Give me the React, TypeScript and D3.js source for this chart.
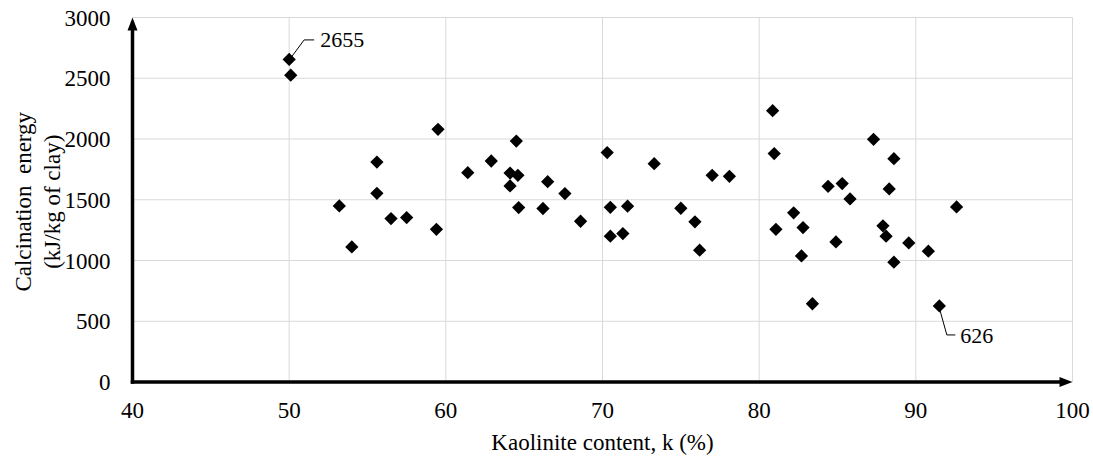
import React from 'react';
import * as d3 from 'd3';

// Kaolinite content (%) and calcination energy (kJ/kg of clay)
const kaolinite = [
  50.0, 50.1, 59.5, 55.6, 61.4, 55.6, 53.2, 56.5, 57.5, 59.4, 54.0,
  64.5, 62.9, 64.1, 64.6, 64.1, 66.5, 67.6, 64.65, 66.2, 68.6,
  70.3, 73.3, 70.5, 71.6, 70.5, 71.3, 75.0, 77.0, 78.1, 75.9, 76.2,
  80.96, 80.86, 87.3, 84.4, 85.3, 85.8, 82.2, 81.07, 82.8, 84.9, 82.7, 83.4,
  88.6, 88.3, 87.9, 88.1, 89.55, 90.8, 88.6, 92.6, 91.5,
];
const energy = [
  2655, 2525, 2080, 1810, 1723, 1553, 1449, 1345, 1353, 1257, 1112,
  1983, 1819, 1720, 1701, 1614, 1649, 1551, 1436, 1428, 1323,
  1888, 1797, 1438, 1447, 1200, 1222, 1430, 1701, 1693, 1318, 1085,
  1880, 2233, 1997, 1611, 1633, 1507, 1392, 1257, 1271, 1153, 1038, 644,
  1838, 1589, 1285, 1200, 1145, 1077, 986, 1441, 626,
];
const xTicks = [40, 50, 60, 70, 80, 90, 100];
const yTicks = [0, 500, 1000, 1500, 2000, 2500, 3000];
// labelled points: index into the arrays above
const labelled = [0, 52];

const width = 1093;
const height = 456;
const font = '"Liberation Serif", serif';

export default function App() {
  const x = d3.scaleLinear().domain([40, 100]).range([132.5, 1072.5]);
  const y = d3.scaleLinear().domain([0, 3000]).range([382, 17.5]);
  const diamond = d3.symbol(d3.symbolSquare, 88)();

  const x0 = x(40);
  const x1 = x(100);
  const y0 = y(0);
  const y1 = y(3000);

  const top = labelled[0];
  const bottom = labelled[1];
  const tx = x(kaolinite[top]);
  const ty = y(energy[top]);
  const bx = x(kaolinite[bottom]);
  const by = y(energy[bottom]);

  return (
    <div style={{ position: 'absolute', left: 0, top: 0 }}>
      <svg width={width} height={height} style={{ display: 'block' }}>
        <rect width={width} height={height} fill="#fff" />
        {/* gridlines */}
        {yTicks.slice(1).map((t) => (
          <line key={'gy' + t} x1={x0} x2={x1} y1={y(t)} y2={y(t)} stroke="#d9d9d9" strokeWidth={1} />
        ))}
        {xTicks.slice(1).map((t) => (
          <line key={'gx' + t} x1={x(t)} x2={x(t)} y1={y1} y2={y0} stroke="#d9d9d9" strokeWidth={1} />
        ))}

        {/* axes with arrows */}
        <line x1={x0} x2={x0} y1={y0 + 1.75} y2={y1 + 10} stroke="#000" strokeWidth={3.5} />
        <path d={`M${x0},${y1} L${x0 - 5},${y1 + 13} L${x0 + 5},${y1 + 13} Z`} fill="#000" />
        <line x1={x0 - 1.75} x2={x1 - 10} y1={y0} y2={y0} stroke="#000" strokeWidth={3.5} />
        <path d={`M${x1},${y0} L${x1 - 13},${y0 - 5} L${x1 - 13},${y0 + 5} Z`} fill="#000" />

        {/* tick labels */}
        {yTicks.map((t) => (
          <text key={'ty' + t} x={x0 - 22} y={y(t)} dy="0.35em" textAnchor="end" fontFamily={font} fontSize={23} fill="#000">
            {t}
          </text>
        ))}
        {xTicks.map((t) => (
          <text key={'tx' + t} x={x(t)} y={418} textAnchor="middle" fontFamily={font} fontSize={23} fill="#000">
            {t}
          </text>
        ))}

        {/* axis titles */}
        <text x={(x0 + x1) / 2} y={450} textAnchor="middle" fontFamily={font} fontSize={23} fill="#000">
          Kaolinite content, k (%)
        </text>
        <g transform={`translate(0,${(y0 + y1) / 2 + 2}) rotate(-90)`}>
          <text x={0} y={31} textAnchor="middle" fontFamily={font} fontSize={23} fill="#000" style={{ whiteSpace: 'pre' }}>
            {'Calcination  energy'}
          </text>
          <text x={0} y={60} textAnchor="middle" fontFamily={font} fontSize={23} fill="#000">
            (kJ/kg of clay)
          </text>
        </g>

        {/* points */}
        {kaolinite.map((k, i) => (
          <path
            key={'p' + i}
            d={diamond}
            transform={`translate(${x(k)},${y(energy[i])}) rotate(45)`}
            fill="#000"
          />
        ))}

        {/* annotations */}
        <polyline
          points={`${tx + 2},${ty - 2} ${tx + 15},${ty - 19.5} ${tx + 25},${ty - 19.5}`}
          fill="none"
          stroke="#000"
          strokeWidth={1}
        />
        <text x={tx + 31} y={ty - 12} fontFamily={font} fontSize={22} fill="#000">
          {energy[top]}
        </text>
        <polyline
          points={`${bx},${by + 2} ${bx + 7.5},${by + 29} ${bx + 16},${by + 29}`}
          fill="none"
          stroke="#000"
          strokeWidth={1}
        />
        <text x={bx + 21} y={by + 37.5} fontFamily={font} fontSize={22} fill="#000">
          {energy[bottom]}
        </text>
      </svg>
    </div>
  );
}
